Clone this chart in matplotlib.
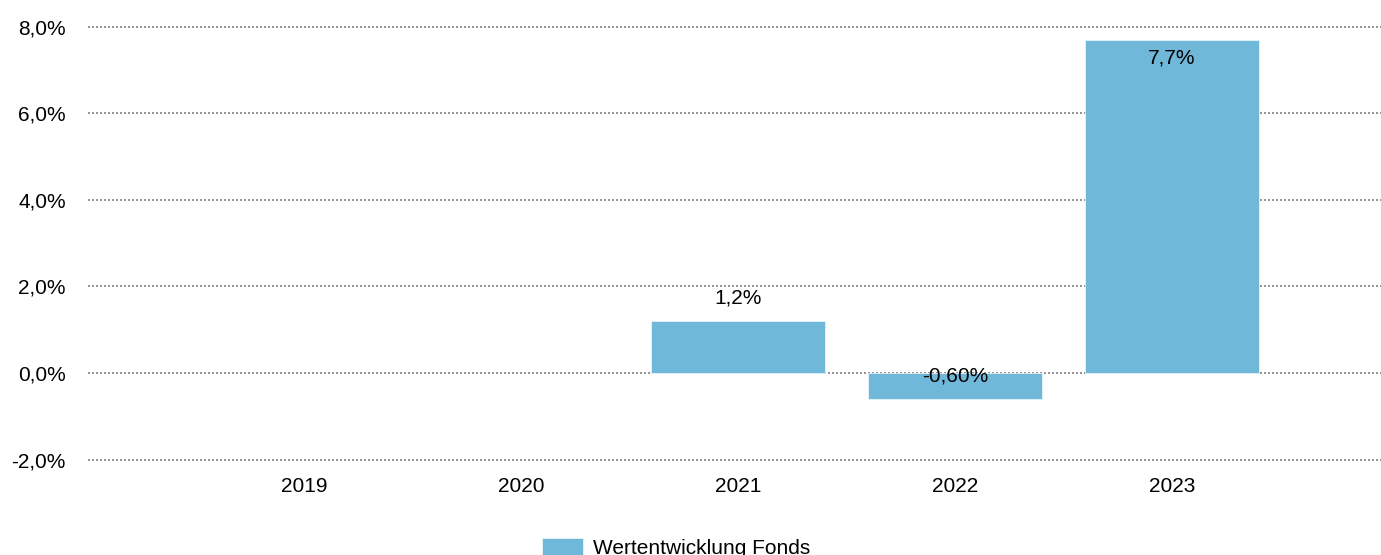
import numpy as np
import matplotlib.pyplot as plt
from matplotlib.ticker import FuncFormatter

plt.rcParams["font.family"] = ["Liberation Sans", "DejaVu Sans"]

years = ["2019", "2020", "2021", "2022", "2023"]
fund_perf = [np.nan, np.nan, 1.2, -0.6, 7.7]
bar_labels = ["", "", "1,2%", "-0,60%", "7,7%"]
series_name = "Wertentwicklung Fonds"
y_ticks = [-2, 0, 2, 4, 6, 8]

W, H = 1381, 555
FS = 15
fig = plt.figure(figsize=(W / 100, H / 100), dpi=100)
ax = fig.add_axes([88 / W, 1 - 468.3 / H, (W - 88) / W, (468.3 - 17.9) / H])

x = np.arange(len(years))
bars = ax.bar(x, fund_perf, width=0.8, color="#70b8da", edgecolor="#e6f3f9",
              linewidth=0.6, zorder=3, label=series_name)

ax.set_xlim((88 - 304) / 217, (W - 304) / 217)
ax.set_ylim(-2.2, 8.2)
ax.set_yticks(y_ticks)
ax.yaxis.set_major_formatter(FuncFormatter(lambda v, p: f"{v:.1f}%".replace(".", ",")))
ax.set_xticks(x)
ax.set_xticklabels(years)
ax.grid(axis="y", color="#808080", linewidth=1.2, linestyle=(0, (1.2, 1.2)), zorder=1)
ax.tick_params(axis="y", length=0, pad=16, labelsize=FS)
ax.tick_params(axis="x", length=0, pad=6, labelsize=FS)
for s in ax.spines.values():
    s.set_visible(False)

for xi, v, lab in zip(x, fund_perf, bar_labels):
    if not lab:
        continue
    if v > 5:
        y, dy = v, -13.5
    elif v > 0:
        y, dy = v, 16.5
    else:
        y, dy = 0, -2.3
    ax.annotate(lab, (xi, y), xytext=(0, dy), textcoords="offset points",
                ha="center", va="center", fontsize=FS, zorder=5)

fig.legend(handles=[bars], loc="upper left", bbox_to_anchor=(542 / W, 1 - 537.5 / H),
           frameon=False, fontsize=FS, borderpad=0, borderaxespad=0,
           handlelength=1.95, handleheight=1.0, handletextpad=0.5)

fig.savefig("out.png", dpi=100)
